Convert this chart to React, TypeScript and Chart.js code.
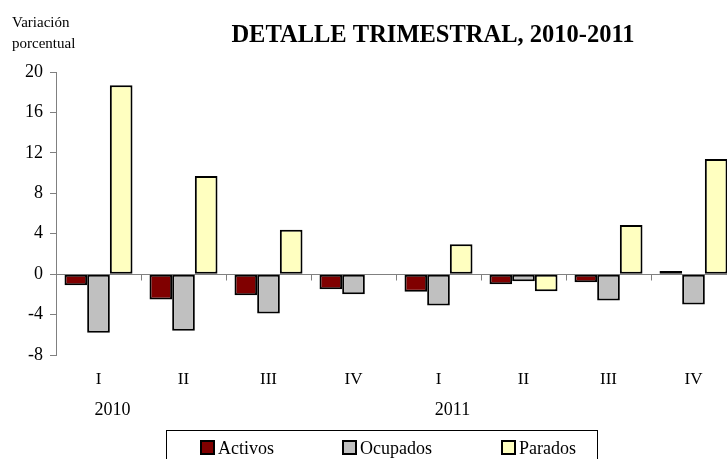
import React, { useEffect, useRef } from "react";
import { Chart, registerables } from "chart.js";

Chart.register(...registerables);

const quarters = ["I", "II", "III", "IV", "I", "II", "III", "IV"];
const years = ["2010", "2011"];
const yearStartIndex = [0, 4];
const activos = [-1.1, -2.5, -2.1, -1.5, -1.75, -1.0, -0.8, 0.3];
const ocupados = [-5.8, -5.6, -3.9, -2.0, -3.1, -0.7, -2.6, -3.0];
const parados: (number | null)[] = [18.7, 9.7, 4.4, null, 2.95, -1.7, 4.85, 11.4];
const seriesNames = ["Activos", "Ocupados", "Parados"];
const seriesColors = ["#800000", "#C0C0C0", "#FFFFC0"];
const title = "DETALLE TRIMESTRAL, 2010-2011";
const axisTitle = ["Variación", "porcentual"];

const SERIF = '"Liberation Serif", "Times New Roman", serif';

const overlay = {
  id: "overlay",
  beforeDatasetsDraw(chart: any) {
    const ctx = chart.ctx;
    const xs = chart.scales.x;
    const ys = chart.scales.y;
    const area = chart.chartArea;
    const y0 = Math.round(ys.getPixelForValue(0)) + 0.5;
    ctx.save();
    ctx.strokeStyle = "#808080";
    ctx.lineWidth = 1;
    ctx.beginPath();
    ctx.moveTo(area.left, y0);
    ctx.lineTo(area.right, y0);
    for (let i = 1; i <= quarters.length; i++) {
      const bx = Math.round(xs.getPixelForValue(i - 0.5)) + 0.5;
      ctx.moveTo(bx, y0);
      ctx.lineTo(bx, y0 + 6);
    }
    ctx.stroke();
    ctx.restore();
  },
  afterDraw(chart: any) {
    const ctx = chart.ctx;
    const xs = chart.scales.x;
    ctx.save();
    ctx.fillStyle = "#000";
    // title
    ctx.font = `bold 24.5px ${SERIF}`;
    ctx.textAlign = "center";
    ctx.textBaseline = "alphabetic";
    ctx.fillText(title, 433, 42);
    // axis title
    ctx.font = `15px ${SERIF}`;
    ctx.textAlign = "left";
    ctx.fillText(axisTitle[0], 12, 27);
    ctx.fillText(axisTitle[1], 12, 48);
    // quarter labels
    ctx.font = `17px ${SERIF}`;
    ctx.textAlign = "center";
    ctx.textBaseline = "middle";
    quarters.forEach((q, i) => {
      ctx.fillText(q, xs.getPixelForValue(i), 380);
    });
    // year labels
    ctx.font = `18px ${SERIF}`;
    years.forEach((yr, k) => {
      ctx.fillText(yr, xs.getPixelForValue(yearStartIndex[k]) + 14, 410);
    });
    // legend
    ctx.strokeStyle = "#000";
    ctx.lineWidth = 1;
    ctx.strokeRect(166.5, 430.5, 431, 40);
    const itemX = [201, 343, 502];
    ctx.font = `18px ${SERIF}`;
    ctx.textAlign = "left";
    ctx.textBaseline = "alphabetic";
    seriesNames.forEach((name, i) => {
      const mx = itemX[i];
      ctx.fillStyle = seriesColors[i];
      ctx.fillRect(mx, 441, 13, 13);
      ctx.strokeStyle = "#000";
      ctx.lineWidth = 2;
      ctx.strokeRect(mx, 441, 13, 13);
      ctx.fillStyle = "#000";
      ctx.fillText(name, mx + 17, 454);
    });
    ctx.restore();
  },
};

export default function App() {
  const ref = useRef<HTMLCanvasElement>(null);
  useEffect(() => {
    document.body.style.overflow = "hidden";
    document.documentElement.style.overflow = "hidden";
    const datasets = [activos, ocupados, parados].map((d, i) => ({
      label: seriesNames[i],
      data: d,
      backgroundColor: seriesColors[i],
      borderColor: "#000",
      borderWidth: 2,
      borderSkipped: false,
      categoryPercentage: 0.8,
      barPercentage: 1.0,
    }));
    const chart = new Chart(ref.current!, {
      type: "bar",
      data: { labels: quarters, datasets },
      options: {
        animation: false,
        responsive: false,
        maintainAspectRatio: false,
        layout: { padding: { left: 0, top: 72, right: 4, bottom: 104 } },
        plugins: { legend: { display: false }, tooltip: { enabled: false }, title: { display: false } },
        scales: {
          x: { display: false, grid: { display: false } },
          y: {
            min: -8,
            max: 20,
            afterFit(scale: any) {
              scale.width = 56;
            },
            ticks: {
              stepSize: 4,
              color: "#000",
              padding: 7,
              font: { family: SERIF, size: 18 },
            },
            grid: {
              drawOnChartArea: false,
              drawTicks: true,
              tickLength: 6,
              color: "#808080",
            },
            border: { display: true, color: "#808080", width: 1 },
          },
        },
      },
      plugins: [overlay],
    });
    return () => chart.destroy();
  }, []);
  return (
    <div style={{ position: "fixed", left: 0, top: 0, width: 740, height: 459, overflow: "hidden", background: "#fff" }}>
      <canvas ref={ref} width={740} height={459} style={{ display: "block" }} />
    </div>
  );
}
